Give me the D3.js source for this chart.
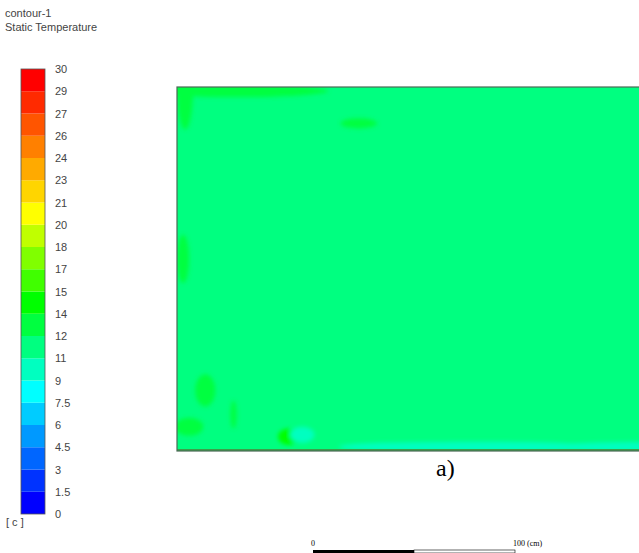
<!DOCTYPE html>
<html>
<head>
<meta charset="utf-8">
<script src="https://cdn.jsdelivr.net/npm/d3@7"></script>
<style>
	body { margin: 0; background: #fff; }
	svg { display: block; }
</style>
</head>
<body>
<div id="plot"></div>
<script>
const width = 639,
	height = 553;

// legend levels (deg C) and the labels shown beside them
const levels = [0, 1.5, 3, 4.5, 6, 7.5, 9, 10.5, 12, 13.5, 15, 16.5, 18, 19.5, 21, 22.5, 24, 25.5, 27, 28.5, 30];
const levelLabels = ["0", "1.5", "3", "4.5", "6", "7.5", "9", "11", "12", "14", "15", "17", "18", "20", "21", "23", "24", "26", "27", "29", "30"];
const bandColours = [
	"#0000ff", "#0033ff", "#0066ff", "#0099ff", "#00ccff",
	"#00ffff", "#00ffc0", "#00ff80", "#00ff40", "#00ff00",
	"#40ff00", "#80ff00", "#c0ff00", "#ffff00", "#ffd500",
	"#ffaa00", "#ff8000", "#ff5500", "#ff2a00", "#ff0000",
];

// temperature field: bulk value plus local patches (position in cm)
const baseTemp = 11.2;
const spotX = [30, 4, 90, 3, 14, 6, 55, 62, 150, 115, 225, 28];
const spotY = [2, 1, 18, 85, 150, 168, 173, 172, 178, 178, 178, 162];
const spotRx = [45, 4, 9, 3, 5, 7, 5, 6, 60, 35, 40, 1.5];
const spotRy = [3, 20, 2.5, 12, 8, 4.5, 4, 4, 2.6, 2.2, 2.4, 7];
const spotTemp = [12.4, 12.4, 13.0, 12.6, 12.8, 13.2, 13.6, 9.8, 9.9, 9.8, 9.5, 12.6];

// scale bar
const scaleTicks = [0, 100];

const svg = d3
	.select("#plot")
	.append("svg")
	.attr("width", width)
	.attr("height", height)
	.style("font-family", "Arial, 'Liberation Sans', sans-serif");

const colour = d3.scaleThreshold().domain(levels.slice(1, -1)).range(bandColours);

// ---- title
svg.append("text").attr("x", 5).attr("y", 17).attr("font-size", 11).attr("fill", "#444").text("contour-1");
svg.append("text").attr("x", 5).attr("y", 31).attr("font-size", 11).attr("fill", "#444").text("Static Temperature");

// ---- colour bar
const yLeg = d3.scaleLinear().domain([0, 30]).range([514, 69]);

const bands = d3.range(levels.length - 1).map((i) => ({ lo: levels[i], hi: levels[i + 1] }));

svg
	.append("g")
	.selectAll("rect")
	.data(bands)
	.join("rect")
	.attr("x", 21)
	.attr("width", 24)
	.attr("y", (d) => yLeg(d.hi))
	.attr("height", (d) => yLeg(d.lo) - yLeg(d.hi))
	.attr("fill", (d) => colour((d.lo + d.hi) / 2));

svg
	.append("rect")
	.attr("x", 21)
	.attr("y", yLeg(30))
	.attr("width", 24)
	.attr("height", yLeg(0) - yLeg(30))
	.attr("fill", "none")
	.attr("stroke", "#555")
	.attr("stroke-width", 0.8);

svg
	.append("g")
	.selectAll("text")
	.data(levels)
	.join("text")
	.attr("x", 55)
	.attr("y", (d) => yLeg(d) + 4)
	.attr("font-size", 11)
	.attr("fill", "#444")
	.text((d, i) => levelLabels[i]);

svg.append("text").attr("x", 6).attr("y", 526).attr("font-size", 11).attr("fill", "#444").text("[ c ]");

// ---- contour field
const x = d3.scaleLinear().domain([0, 100]).range([177, 379]);
const y = d3.scaleLinear().domain([0, 180]).range([87, 451]);

const defs = svg.append("defs");
defs
	.append("clipPath")
	.attr("id", "field-clip")
	.append("rect")
	.attr("x", x(0))
	.attr("y", y(0))
	.attr("width", width - x(0))
	.attr("height", y(180) - y(0));

defs
	.append("filter")
	.attr("id", "soft")
	.attr("x", "-50%")
	.attr("y", "-50%")
	.attr("width", "200%")
	.attr("height", "200%")
	.append("feGaussianBlur")
	.attr("stdDeviation", 2.2);

const field = svg.append("g").attr("clip-path", "url(#field-clip)");

field
	.append("rect")
	.attr("x", x(0))
	.attr("y", y(0))
	.attr("width", width - x(0))
	.attr("height", y(180) - y(0))
	.attr("fill", colour(baseTemp));

field
	.append("g")
	.attr("filter", "url(#soft)")
	.selectAll("ellipse")
	.data(spotX)
	.join("ellipse")
	.attr("cx", (d) => x(d))
	.attr("cy", (d, i) => y(spotY[i]))
	.attr("rx", (d, i) => x(spotRx[i]) - x(0))
	.attr("ry", (d, i) => y(spotRy[i]) - y(0))
	.attr("fill", (d, i) => colour(spotTemp[i]));

// bottom wall
field
	.append("line")
	.attr("x1", x(0))
	.attr("x2", width)
	.attr("y1", y(180) - 1)
	.attr("y2", y(180) - 1)
	.attr("stroke", "#3aa04a")
	.attr("stroke-width", 2);

svg
	.append("rect")
	.attr("x", x(0))
	.attr("y", y(0))
	.attr("width", width - x(0) + 2)
	.attr("height", y(180) - y(0))
	.attr("fill", "none")
	.attr("stroke", "#4a6a55")
	.attr("stroke-width", 1.2);

// ---- panel label
svg
	.append("text")
	.attr("x", 436)
	.attr("y", 476)
	.attr("font-family", "'Liberation Serif', 'Times New Roman', serif")
	.attr("font-size", 24)
	.text("a)");

// ---- scale bar
const xs = d3.scaleLinear().domain([0, 100]).range([313, 515]);

svg
	.append("rect")
	.attr("x", xs(0))
	.attr("y", 550)
	.attr("width", xs(50) - xs(0))
	.attr("height", 3)
	.attr("fill", "#000");
svg
	.append("rect")
	.attr("x", xs(50))
	.attr("y", 550)
	.attr("width", xs(100) - xs(50))
	.attr("height", 3)
	.attr("fill", "#fff")
	.attr("stroke", "#000")
	.attr("stroke-width", 0.6);

svg
	.append("g")
	.selectAll("text")
	.data(scaleTicks)
	.join("text")
	.attr("x", (d) => xs(d) - 2)
	.attr("y", 546)
	.attr("font-family", "'Liberation Serif', 'Times New Roman', serif")
	.attr("font-size", 8)
	.text((d) => (d === 100 ? "100 (cm)" : d));
</script>
</body>
</html>
